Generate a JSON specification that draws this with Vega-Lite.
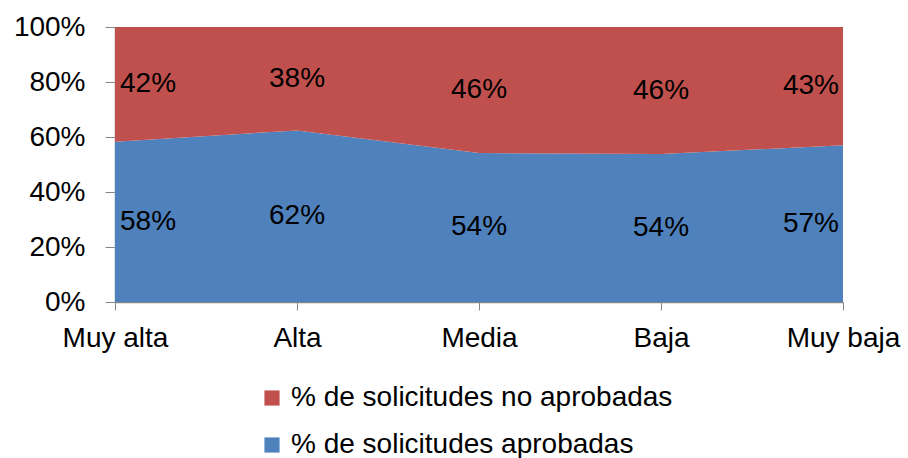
{
  "$schema": "https://vega.github.io/schema/vega-lite/v6.json",
  "width": 728,
  "height": 275,
  "autosize": {"type": "none"},
  "padding": {"left": 115, "top": 27, "right": 65, "bottom": 156},
  "background": "white",
  "config": {
    "view": {"stroke": null},
    "font": "Liberation Sans",
    "axis": {"grid": false, "domainColor": "#868686", "tickColor": "#868686", "labelColor": "#000000", "labelFont": "Liberation Sans", "labelFontSize": 28, "title": null}
  },
  "data": {
    "values": [
      {"cat": "Muy alta", "serie": "% de solicitudes aprobadas", "valor": 0.583},
      {"cat": "Alta", "serie": "% de solicitudes aprobadas", "valor": 0.624},
      {"cat": "Media", "serie": "% de solicitudes aprobadas", "valor": 0.542},
      {"cat": "Baja", "serie": "% de solicitudes aprobadas", "valor": 0.538},
      {"cat": "Muy baja", "serie": "% de solicitudes aprobadas", "valor": 0.570},
      {"cat": "Muy alta", "serie": "% de solicitudes no aprobadas", "valor": 0.417},
      {"cat": "Alta", "serie": "% de solicitudes no aprobadas", "valor": 0.376},
      {"cat": "Media", "serie": "% de solicitudes no aprobadas", "valor": 0.458},
      {"cat": "Baja", "serie": "% de solicitudes no aprobadas", "valor": 0.462},
      {"cat": "Muy baja", "serie": "% de solicitudes no aprobadas", "valor": 0.430}
    ]
  },
  "transform": [
    {"stack": "valor", "groupby": ["cat"], "sort": [{"field": "serie", "order": "ascending"}], "as": ["y0", "y1"]},
    {"calculate": "(datum.y0 + datum.y1) / 2", "as": "mid"}
  ],
  "encoding": {
    "x": {
      "field": "cat", "type": "ordinal",
      "sort": ["Muy alta", "Alta", "Media", "Baja", "Muy baja"],
      "scale": {"type": "point", "padding": 0},
      "axis": {"labelAngle": 0, "tickSize": 8, "labelPadding": 14, "domainWidth": 1.5, "labelLimit": 0}
    }
  },
  "layer": [
    {
      "mark": {"type": "area", "opacity": 1},
      "encoding": {
        "y": {"field": "y1", "type": "quantitative", "scale": {"domain": [0, 1]},
          "axis": {"values": [0, 0.2, 0.4, 0.6, 0.8, 1], "format": ".0%", "tickSize": 10, "labelPadding": 20, "domainWidth": 1.5}},
        "y2": {"field": "y0"},
        "color": {
          "field": "serie", "type": "nominal",
          "scale": {"domain": ["% de solicitudes no aprobadas", "% de solicitudes aprobadas"], "range": ["#C0504D", "#4F81BD"]},
          "legend": {
            "title": null, "orient": "none", "legendX": 143, "legendY": 357,
            "direction": "vertical", "symbolType": "square", "symbolSize": 230,
            "symbolStrokeWidth": 0, "symbolOpacity": 1,
            "labelFont": "Liberation Sans", "labelFontSize": 28, "labelColor": "#000000",
            "labelLimit": 0, "rowPadding": 19, "labelOffset": 5
          }
        }
      }
    },
    {
      "mark": {
        "type": "text", "font": "Liberation Sans", "fontSize": 28, "color": "#000000",
        "align": {"expr": "datum.cat == 'Muy alta' ? 'left' : (datum.cat == 'Muy baja' ? 'right' : 'center')"},
        "dx": {"expr": "datum.cat == 'Muy alta' ? 5 : (datum.cat == 'Muy baja' ? -4 : 0)"},
        "baseline": "middle"
      },
      "encoding": {
        "y": {"field": "mid", "type": "quantitative"},
        "text": {"field": "valor", "type": "quantitative", "format": ".0%"}
      }
    }
  ]
}
